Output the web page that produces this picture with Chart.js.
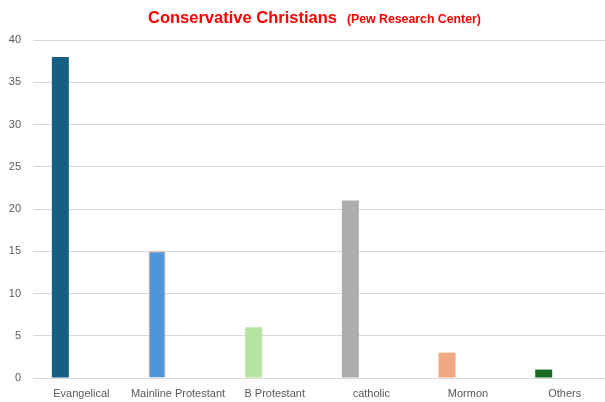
<!DOCTYPE html>
<html>
<head>
<meta charset="utf-8">
<script src="https://cdn.jsdelivr.net/npm/chart.js@4"></script>
<style>
  html, body { margin: 0; padding: 0; background: #fff; }
  #wrap { position: relative; width: 605px; height: 402px; overflow: hidden; }
  #grafico { display: block; }
  #titulo {
    position: absolute; top: 8px; left: 148px; white-space: nowrap;
    color: #ff0000; font-family: "Liberation Sans", Arial, sans-serif; font-weight: bold;
  }
  #titulo .main { font-size: 16.5px; }
  #titulo .sub { font-size: 12.3px; margin-left: 10px; }
</style>
</head>
<body>
<div id="wrap">
  <canvas id="grafico" width="615" height="402"></canvas>
  <div id="titulo"><span class="main">Conservative Christians</span><span class="sub">(Pew Research Center)</span></div>
</div>
<script>
// categorias y valores
const categorias = ["Evangelical", "Mainline Protestant", "B Protestant", "catholic", "Mormon", "Others"];
const valores = [38, 15, 6, 21, 3, 1];
const vacios = [null, null, null, null, null, null];
const colores = ["#156082", "#4e95d9", "#b5e3a1", "#adadad", "#f1a983", "#196b24"];
const bordes = ["#156082", "#f1a983", "#b5e3a1", "#adadad", "#f1a983", "#196b24"];
const anchosBorde = [0, 1, 0, 0, 0, 0];
const ticksY = [0, 5, 10, 15, 20, 25, 30, 35, 40];

window.addEventListener("load", () => {
  const ctx = document.querySelector("#grafico").getContext("2d");

  const datosDelGrafico = {
    type: "bar",
    data: {
      labels: categorias,
      datasets: [
        {
          label: "Participación",
          data: valores,
          backgroundColor: colores,
          borderColor: bordes,
          borderWidth: anchosBorde,
          categoryPercentage: 0.868,
          barPercentage: 0.405,
        },
        {
          label: "",
          data: vacios,
          categoryPercentage: 0.868,
          barPercentage: 0.405,
        },
      ],
    },
    options: {
      responsive: false,
      animation: false,
      layout: { padding: { top: 40, right: 2, left: 0, bottom: 0 } },
      plugins: {
        legend: { display: false },
        tooltip: { enabled: false },
      },
      scales: {
        x: {
          grid: { display: false },
          border: { display: false },
          ticks: {
            color: "#595959",
            font: { family: "'Liberation Sans', Arial, sans-serif", size: 11 },
            maxRotation: 0,
            autoSkip: false,
            padding: 1,
          },
          afterFit: (s) => { s.height = 24; },
        },
        y: {
          min: 0,
          max: 40,
          afterBuildTicks: (s) => { s.ticks = ticksY.map(v => ({ value: v })); },
          grid: { color: "#d9d9d9", drawTicks: false, lineWidth: 1 },
          border: { display: false },
          ticks: {
            color: "#595959",
            font: { family: "'Liberation Sans', Arial, sans-serif", size: 11 },
            padding: 12,
          },
          afterFit: (s) => { s.width = 33; },
        },
      },
    },
  };

  const graficoBarras = new Chart(ctx, datosDelGrafico);
});
</script>
</body>
</html>
